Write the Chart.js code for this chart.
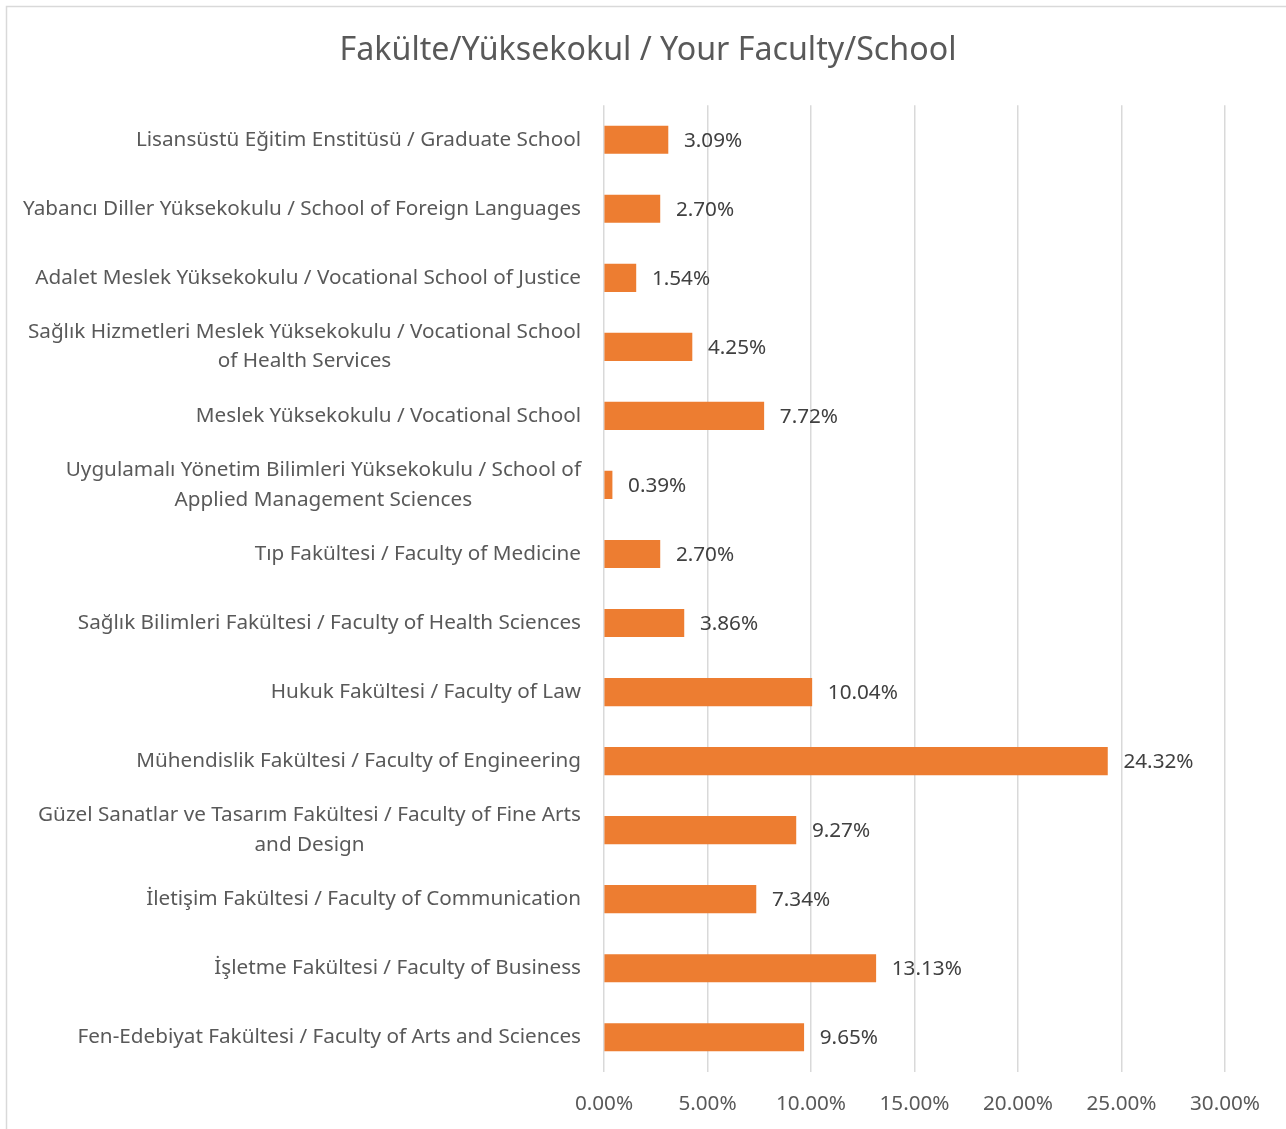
<!DOCTYPE html>
<html>
<head>
<meta charset="utf-8">
<script src="https://cdn.jsdelivr.net/npm/chart.js@4"></script>
<style>
  html, body { margin: 0; padding: 0; background: #fff; }
  #wrap { position: relative; width: 1286px; height: 1129px; }
</style>
</head>
<body>
<div id="wrap"><canvas id="chart" width="1286" height="1129"></canvas></div>
<script>
const categories = [
    'Lisansüstü Eğitim Enstitüsü / Graduate School',
    'Yabancı Diller Yüksekokulu / School of Foreign Languages',
    'Adalet Meslek Yüksekokulu / Vocational School of Justice',
    ['Sağlık Hizmetleri Meslek Yüksekokulu / Vocational School', 'of Health Services'],
    'Meslek Yüksekokulu / Vocational School',
    ['Uygulamalı Yönetim Bilimleri Yüksekokulu / School of', 'Applied Management Sciences'],
    'Tıp Fakültesi / Faculty of Medicine',
    'Sağlık Bilimleri Fakültesi / Faculty of Health Sciences',
    'Hukuk Fakültesi / Faculty of Law',
    'Mühendislik Fakültesi / Faculty of Engineering',
    ['Güzel Sanatlar ve Tasarım Fakültesi / Faculty of Fine Arts', 'and Design'],
    'İletişim Fakültesi / Faculty of Communication',
    'İşletme Fakültesi / Faculty of Business',
    'Fen-Edebiyat Fakültesi / Faculty of Arts and Sciences'
];
const shares = [3.09, 2.70, 1.54, 4.25, 7.72, 0.39, 2.70, 3.86, 10.04, 24.32, 9.27, 7.34, 13.13, 9.65];
const xTicks = [0, 5, 10, 15, 20, 25, 30];
const chartTitle = 'Fakülte/Yüksekokul / Your Faculty/School';

const FONT = '"Noto Sans", "Open Sans", sans-serif';

// Frame, white background and the title (centred on the whole chart area like Excel)
const framePlugin = {
    id: 'frame',
    beforeDraw(chart) {
        const ctx = chart.ctx;
        ctx.save();
        ctx.fillStyle = '#fff';
        ctx.fillRect(0, 0, chart.width, chart.height);
        ctx.strokeStyle = '#d9d9d9';
        ctx.lineWidth = 1.5;
        ctx.strokeRect(6.5, 6.5, chart.width + 10, chart.height + 10);
        ctx.fillStyle = '#595959';
        ctx.font = '32.2px ' + FONT;
        ctx.textAlign = 'center';
        ctx.textBaseline = 'middle';
        ctx.fillText(chartTitle, 648, 51);
        ctx.restore();
    }
};

// Category labels: block right-aligned to the axis, wrapped lines centred (Excel style)
const categoryLabels = {
    id: 'categoryLabels',
    afterDraw(chart) {
        const ctx = chart.ctx;
        const yScale = chart.scales.y;
        const right = yScale.right - 23;
        const lineH = 29.4;
        ctx.save();
        ctx.font = '20.7px ' + FONT;
        ctx.fillStyle = '#595959';
        ctx.textAlign = 'center';
        ctx.textBaseline = 'middle';
        categories.forEach((label, i) => {
            const lines = Array.isArray(label) ? label : [label];
            const w = Math.max(...lines.map(l => ctx.measureText(l).width));
            const cx = right - w / 2;
            const cy = yScale.getPixelForTick(i);
            lines.forEach((l, j) => {
                ctx.fillText(l, cx, cy + (j - (lines.length - 1) / 2) * lineH);
            });
        });
        ctx.restore();
    }
};

// Value labels at the end of each bar
const valueLabels = {
    id: 'valueLabels',
    afterDatasetsDraw(chart) {
        const ctx = chart.ctx;
        const meta = chart.getDatasetMeta(0);
        ctx.save();
        ctx.font = '20.7px ' + FONT;
        ctx.fillStyle = '#404040';
        ctx.textAlign = 'left';
        ctx.textBaseline = 'middle';
        meta.data.forEach((bar, i) => {
            ctx.fillText(shares[i].toFixed(2) + '%', bar.x + 16, bar.y + 1);
        });
        ctx.restore();
    }
};

new Chart(document.getElementById('chart'), {
    type: 'bar',
    data: {
        labels: categories,
        datasets: [{
            data: shares,
            backgroundColor: '#ed7d31',
            barThickness: 27.5
        }]
    },
    options: {
        indexAxis: 'y',
        responsive: false,
        animation: false,
        layout: { padding: { left: 0, right: 61, top: 105.2, bottom: 0 } },
        plugins: {
            legend: { display: false },
            tooltip: { enabled: false },
            title: { display: false }
        },
        scales: {
            x: {
                min: 0,
                max: 30,
                afterBuildTicks(scale) {
                    scale.ticks = xTicks.map(v => ({ value: v }));
                },
                afterFit(scale) { scale.height = 1129 - 1071.8; },
                grid: { color: '#d9d9d9', lineWidth: 1.5, drawTicks: false },
                border: { display: false },
                ticks: {
                    padding: 20,
                    color: '#595959',
                    font: { family: FONT, size: 20.7 },
                    callback: v => v.toFixed(2) + '%'
                }
            },
            y: {
                afterFit(scale) { scale.width = 604; },
                grid: { display: false, drawTicks: false },
                border: { display: false },
                ticks: { display: false }
            }
        }
    },
    plugins: [framePlugin, valueLabels, categoryLabels]
});
</script>
</body>
</html>
